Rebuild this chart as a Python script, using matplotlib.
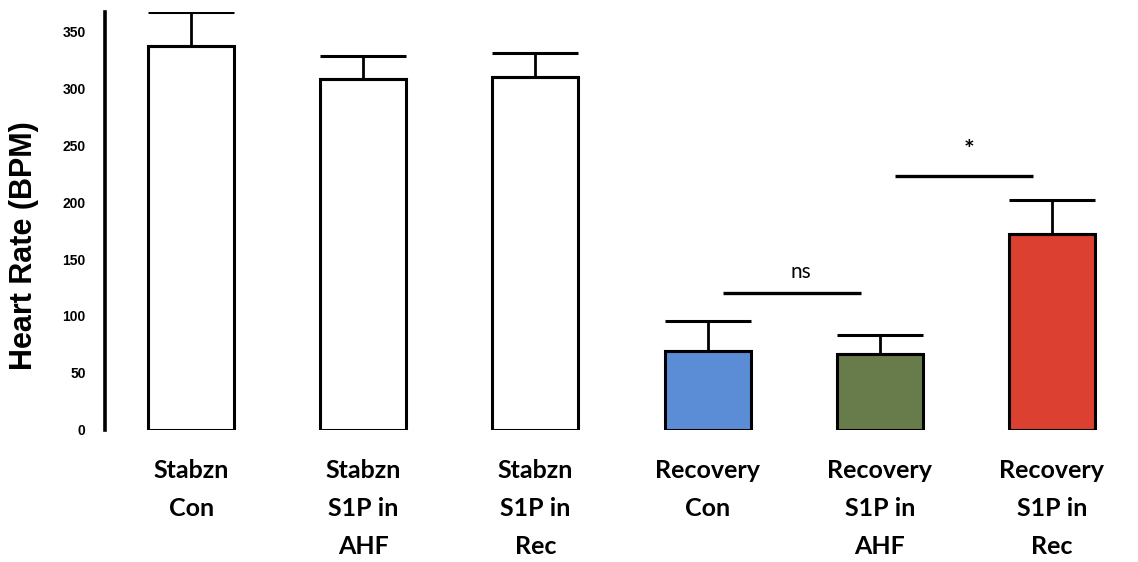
import numpy as np
import matplotlib.pyplot as plt

# Group labels and values
labels = ['Stabzn\nCon', 'Stabzn\nS1P in\nAHF', 'Stabzn\nS1P in\nRec',
          'Recovery\nCon', 'Recovery\nS1P in\nAHF', 'Recovery\nS1P in\nRec']
heart_rate = [337, 308, 310, 69, 67, 172]
sem = [30, 20, 21, 27, 16, 30]
colors = ['white', 'white', 'white', '#5b8dd6', '#687b4a', '#dc4030']

# significance brackets: (left bar, right bar, height, text)
brackets = [(3, 4, 120, 'ns'), (4, 5, 223, '*')]

fig = plt.figure(figsize=(11.38, 5.62), dpi=100)
ax = fig.add_axes([0.0923, 0.235, 0.9077, 0.744])

x = np.arange(len(labels))
ax.bar(x, heart_rate, width=0.5, color=colors, edgecolor='black', linewidth=2.2,
       yerr=[np.zeros(len(sem)), sem], capsize=31,
       error_kw=dict(elinewidth=2, capthick=2.2, ecolor='black'), zorder=2)

for a, b, h, txt in brackets:
    ax.plot([a + 0.09, b - 0.11], [h, h], color='black', lw=2.4, solid_capstyle='butt')
    if txt == '*':
        ax.text((a + b) / 2 + 0.02, h + 12, txt, ha='center', va='bottom', fontsize=18,
                fontweight='bold', family='Lato')
    else:
        ax.text((a + b) / 2 + 0.04, h + 10, txt, ha='center', va='bottom', fontsize=15,
                family='Lato')

ax.set_xlim(-0.5, 5.5)
ax.set_ylim(0, 367)
ax.set_yticks(range(0, 351, 50))
ax.set_xticks(x)
ax.set_xticklabels(labels, fontsize=18, fontweight='bold', family='Lato', linespacing=1.8)
for lab in ax.get_yticklabels():
    lab.set_fontweight('bold')
    lab.set_family('Liberation Sans')
    lab.set_fontsize(10)
ax.tick_params(axis='y', length=0, pad=14)
ax.tick_params(axis='x', length=0, pad=21)

for s in ['top', 'right', 'bottom']:
    ax.spines[s].set_visible(False)
ax.spines['left'].set_linewidth(2.6)

ax.set_ylabel('Heart Rate (BPM)', fontsize=22, fontweight='bold', family='Liberation Sans')
ax.yaxis.set_label_coords(-0.064, 0.44)

fig.savefig('out.png', dpi=100)
